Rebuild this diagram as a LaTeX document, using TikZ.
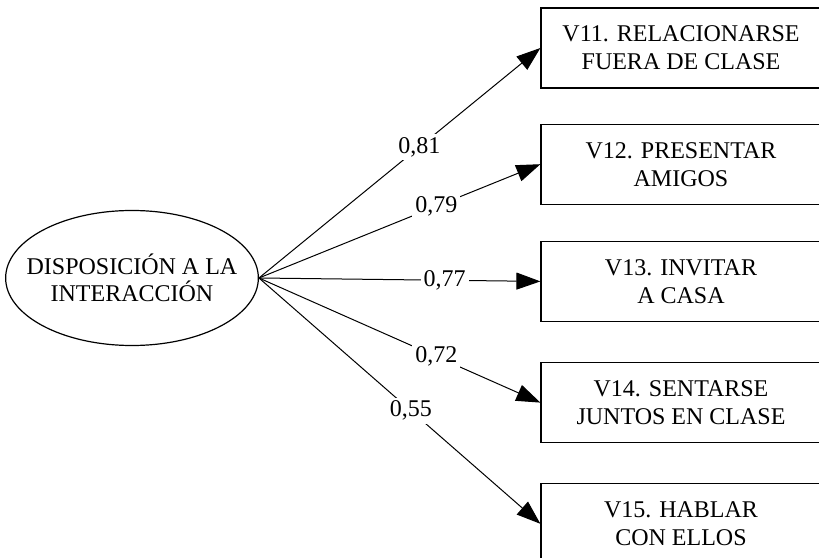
\documentclass[tikz,border=0pt]{standalone}
\usepackage{fontspec}
\setmainfont{Liberation Serif}
\usetikzlibrary{positioning,shapes.geometric,arrows.meta}

\begin{document}
\begin{tikzpicture}[x=0.5bp, y=-0.5bp,
    factor/.style={ellipse, draw, line width=0.6bp, minimum width=123bp, minimum height=67.5bp, inner xsep=-8bp, inner ysep=0pt, align=center, font=\fontsize{12bp}{13.8bp}\selectfont},
    item/.style={rectangle, draw, line width=0.6bp, minimum width=140bp, minimum height=40bp, align=center, font=\fontsize{12bp}{14bp}\selectfont},
    load/.style={-{Triangle[length=12bp,width=8.5bp]}, line width=0.5bp},
    coef/.style={fill=white, inner sep=1.5bp, font=\fontsize{12bp}{14bp}\selectfont}]

\useasboundingbox (0,0) rectangle (819,558);

% Factor
\node[factor] (disp) at (132,278) {DISPOSICIÓN A LA\\INTERACCIÓN};

% Indicators
\node[item] (v11) at (681,48) {V11. RELACIONARSE\\FUERA DE CLASE};
\node[item, below=17.5bp of v11] (v12) {V12. PRESENTAR\\AMIGOS};
\node[item, below=18bp of v12] (v13) {V13. INVITAR\\A CASA};
\node[item, below=20bp of v13] (v14) {V14. SENTARSE\\JUNTOS EN CLASE};
\node[item, below=20bp of v14] (v15) {V15. HABLAR\\CON ELLOS};

% Loadings
\draw[load] (disp.east) -- node[coef, pos=0.57] {0,81} (v11.west);
\draw[load] (disp.east) -- node[coef, pos=0.63] {0,79} (v12.west);
\draw[load] (disp.east) -- node[coef, pos=0.66] {0,77} (v13.west);
\draw[load] (disp.east) -- node[coef, pos=0.63] {0,72} (v14.west);
\draw[load] (disp.east) -- node[coef, pos=0.54] {0,55} (v15.west);

\end{tikzpicture}
\end{document}
